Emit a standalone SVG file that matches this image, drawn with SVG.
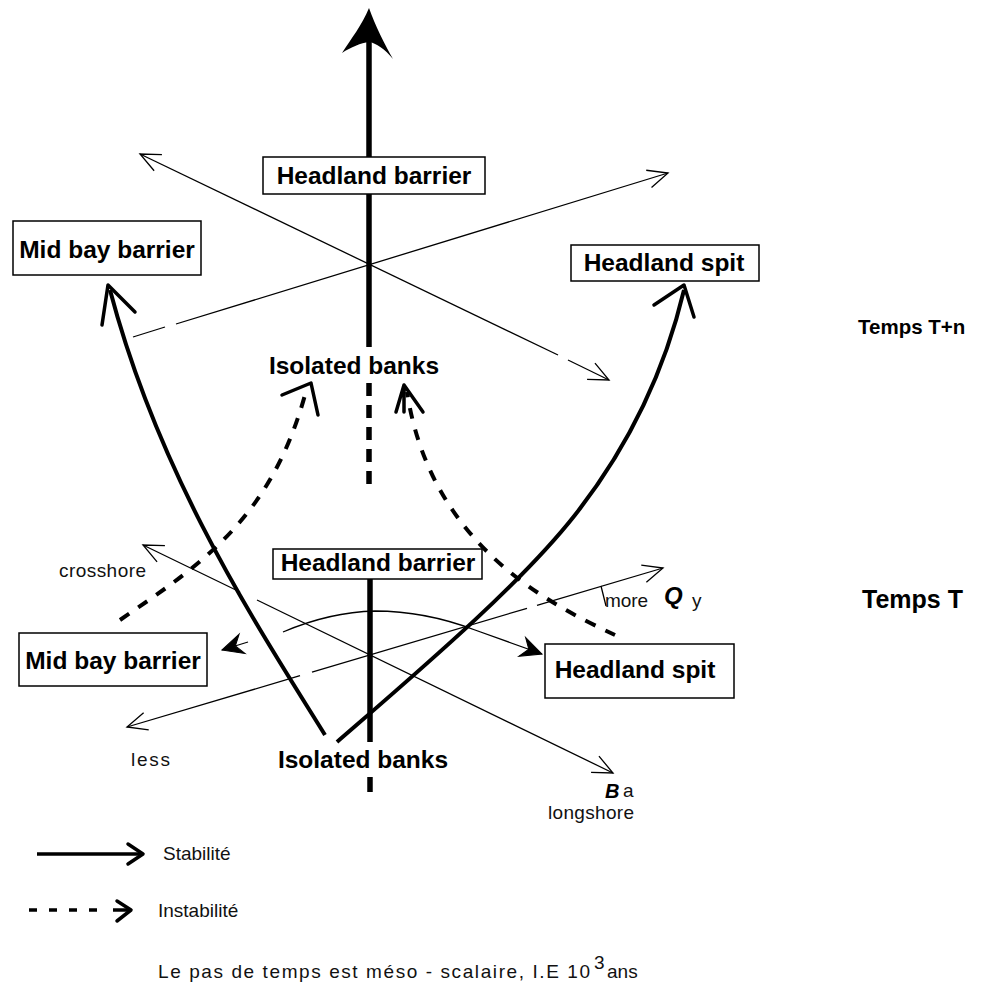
<svg xmlns="http://www.w3.org/2000/svg" width="996" height="989" viewBox="0 0 996 989">
<defs>
<style>
.box{fill:#fff;stroke:#000;stroke-width:1.5}
.lbl{font-family:"Liberation Sans",Arial,sans-serif;font-weight:bold;font-size:24.5px;fill:#000;text-anchor:middle}
.big{font-family:"Liberation Sans",Arial,sans-serif;font-weight:bold;fill:#000}
.sm{font-family:"Liberation Sans",Arial,sans-serif;font-size:19px;fill:#111}
.thin{fill:none;stroke:#000;stroke-width:1.3}
.axis{fill:none;stroke:#000;stroke-width:5.5}
.thick{fill:none;stroke:#000;stroke-width:4}
.dash{fill:none;stroke:#000;stroke-width:4;stroke-dasharray:11 11}
.head{fill:none;stroke:#000;stroke-width:3.5;stroke-linecap:round;stroke-linejoin:round}
</style>
<marker id="open" markerUnits="userSpaceOnUse" markerWidth="30" markerHeight="30" viewBox="-25 -15 30 30" refX="0" refY="0" orient="auto-start-reverse" overflow="visible">
<path d="M-20,-9 L0,0 L-20,9" fill="none" stroke="#000" stroke-width="1.3"/>
</marker>
<marker id="bold" markerUnits="userSpaceOnUse" markerWidth="30" markerHeight="30" viewBox="-25 -15 30 30" refX="0" refY="0" orient="auto" overflow="visible">
<path d="M0,0 L-21,-10 L-14,0 L-21,10 Z" fill="#000" stroke="#000" stroke-width="1"/>
</marker>
</defs>
<rect width="996" height="989" fill="#fff"/>

<g id="connectors">
<!-- main vertical axis -->
<path d="M369,8 C375,25 385,45 393,59 C385,49 376,43 369,42 C361,43 351,47 342,53 C351,39 362,25 369,8 Z" fill="#000"/>
<path class="axis" d="M369,38 V347"/>
<path class="axis" d="M369,383 V490" stroke-dasharray="13 9" stroke-width="4.5"/>
<path class="axis" d="M370,579 V742" stroke-width="5"/>
<path class="axis" d="M370,777 V792" stroke-width="4"/>
<!-- top thin crossing lines -->
<path class="thin" d="M140,154 L558,355" marker-start="url(#open)"/>
<path class="thin" d="M568,360 L609,380" marker-end="url(#open)"/>
<path class="thin" d="M133,337 L165,327"/>
<path class="thin" d="M176,324 L668,173" marker-end="url(#open)"/>
<!-- stable thick curves -->
<path class="thick" d="M325,735 C260,630 160,480 110,290"/>
<path class="head" d="M102,325 L108,285 L135,312"/>
<path class="thick" d="M337,742 C420,670 520,585 575,515 C630,445 665,370 684,290"/>
<path class="head" d="M654,305 L684,285 L694,317"/>
<!-- unstable dashed curves -->
<path class="dash" d="M120,620 C200,565 270,520 305,395"/>
<path class="head" d="M282,395 L311,383 L318,415"/>
<path class="dash" d="M615,635 C540,600 430,540 407,392"/>
<path class="head" d="M396,412 L404,385 L423,412 M404,385 L404,412"/>
<!-- lower thin lines -->
<path class="thin" d="M143,545 L240,592" marker-start="url(#open)"/>
<path class="thin" d="M257,600 L613,773" marker-end="url(#open)"/>
<path class="thin" d="M127,727 L300,675.7" marker-start="url(#open)"/>
<path class="thin" d="M312,672.1 L527,608.3"/>
<path class="thin" d="M537,605.4 L663,568" marker-end="url(#open)"/>
<path class="thin" d="M601,586 L606,606"/>
<!-- arc between mid bay barrier and headland spit -->
<path class="thin" d="M248,642 L222,650" marker-end="url(#bold)" stroke-width="1.6"/>
<path class="thin" d="M283,632 Q330,612 375,611 Q425,611 475,630 L542,654" marker-end="url(#bold)" stroke-width="1.6"/>
<!-- legend -->
<path fill="none" stroke="#000" stroke-width="3.5" d="M37,854 H142"/>
<path class="head" d="M128,844 L143,854 L128,864" stroke-width="3"/>
<path fill="none" stroke="#000" stroke-width="3.5" stroke-dasharray="8 12" d="M29,910 H105"/>
<path fill="none" stroke="#000" stroke-width="3.5" d="M113,910 H130"/>
<path class="head" d="M117,901 L131,910 L117,921" stroke-width="3"/>
</g>

<g id="n-headland-barrier-top">
<rect class="box" x="263" y="157" width="222" height="37"/>
<text class="lbl" x="374" y="184">Headland barrier</text>
</g>
<g id="n-mid-bay-barrier-top">
<rect class="box" x="13" y="221" width="188" height="54"/>
<text class="lbl" x="107" y="258">Mid bay barrier</text>
</g>
<g id="n-headland-spit-top">
<rect class="box" x="571" y="245" width="188" height="36"/>
<text class="lbl" x="664" y="271">Headland spit</text>
</g>
<g id="n-isolated-banks-top">
<text class="lbl" x="354" y="374">Isolated banks</text>
</g>
<g id="n-headland-barrier-bottom">
<rect class="box" x="273" y="549" width="209" height="30"/>
<text class="lbl" x="378" y="571">Headland barrier</text>
</g>
<g id="n-mid-bay-barrier-bottom">
<rect class="box" x="19" y="633" width="188" height="53"/>
<text class="lbl" x="113" y="669">Mid bay barrier</text>
</g>
<g id="n-headland-spit-bottom">
<rect class="box" x="545" y="644" width="189" height="54"/>
<text class="lbl" x="635" y="678">Headland spit</text>
</g>
<g id="n-isolated-banks-bottom">
<text class="lbl" x="363" y="768">Isolated banks</text>
</g>

<g id="labels">
<text class="big" x="858" y="334" font-size="20.5">Temps T+n</text>
<text class="big" x="862" y="608" font-size="25">Temps T</text>
<text class="sm" x="59" y="577" textLength="87" lengthAdjust="spacing">crosshore</text>
<text class="sm" x="605" y="607" textLength="43" lengthAdjust="spacing">more</text>
<text x="664" y="604" font-family="Liberation Sans, Arial, sans-serif" font-weight="bold" font-style="italic" font-size="24">Q</text>
<text class="sm" x="692" y="607" font-size="18">y</text>
<text class="sm" x="131" y="766" textLength="39" lengthAdjust="spacing">less</text>
<text x="605" y="798" font-family="Liberation Sans, Arial, sans-serif" font-weight="bold" font-style="italic" font-size="20">B</text>
<text class="sm" x="623" y="797" font-size="17">a</text>
<text class="sm" x="548" y="819" textLength="86" lengthAdjust="spacing">longshore</text>
<text class="sm" x="163" y="860" font-size="17">Stabilité</text>
<text class="sm" x="158" y="917" font-size="17">Instabilité</text>
<text class="sm" x="158" y="978" font-size="20" textLength="432" lengthAdjust="spacing">Le pas de temps est méso - scalaire, I.E 10</text>
<text class="sm" x="594" y="969" font-size="18">3</text>
<text class="sm" x="607" y="978" font-size="20">ans</text>
</g>
</svg>
